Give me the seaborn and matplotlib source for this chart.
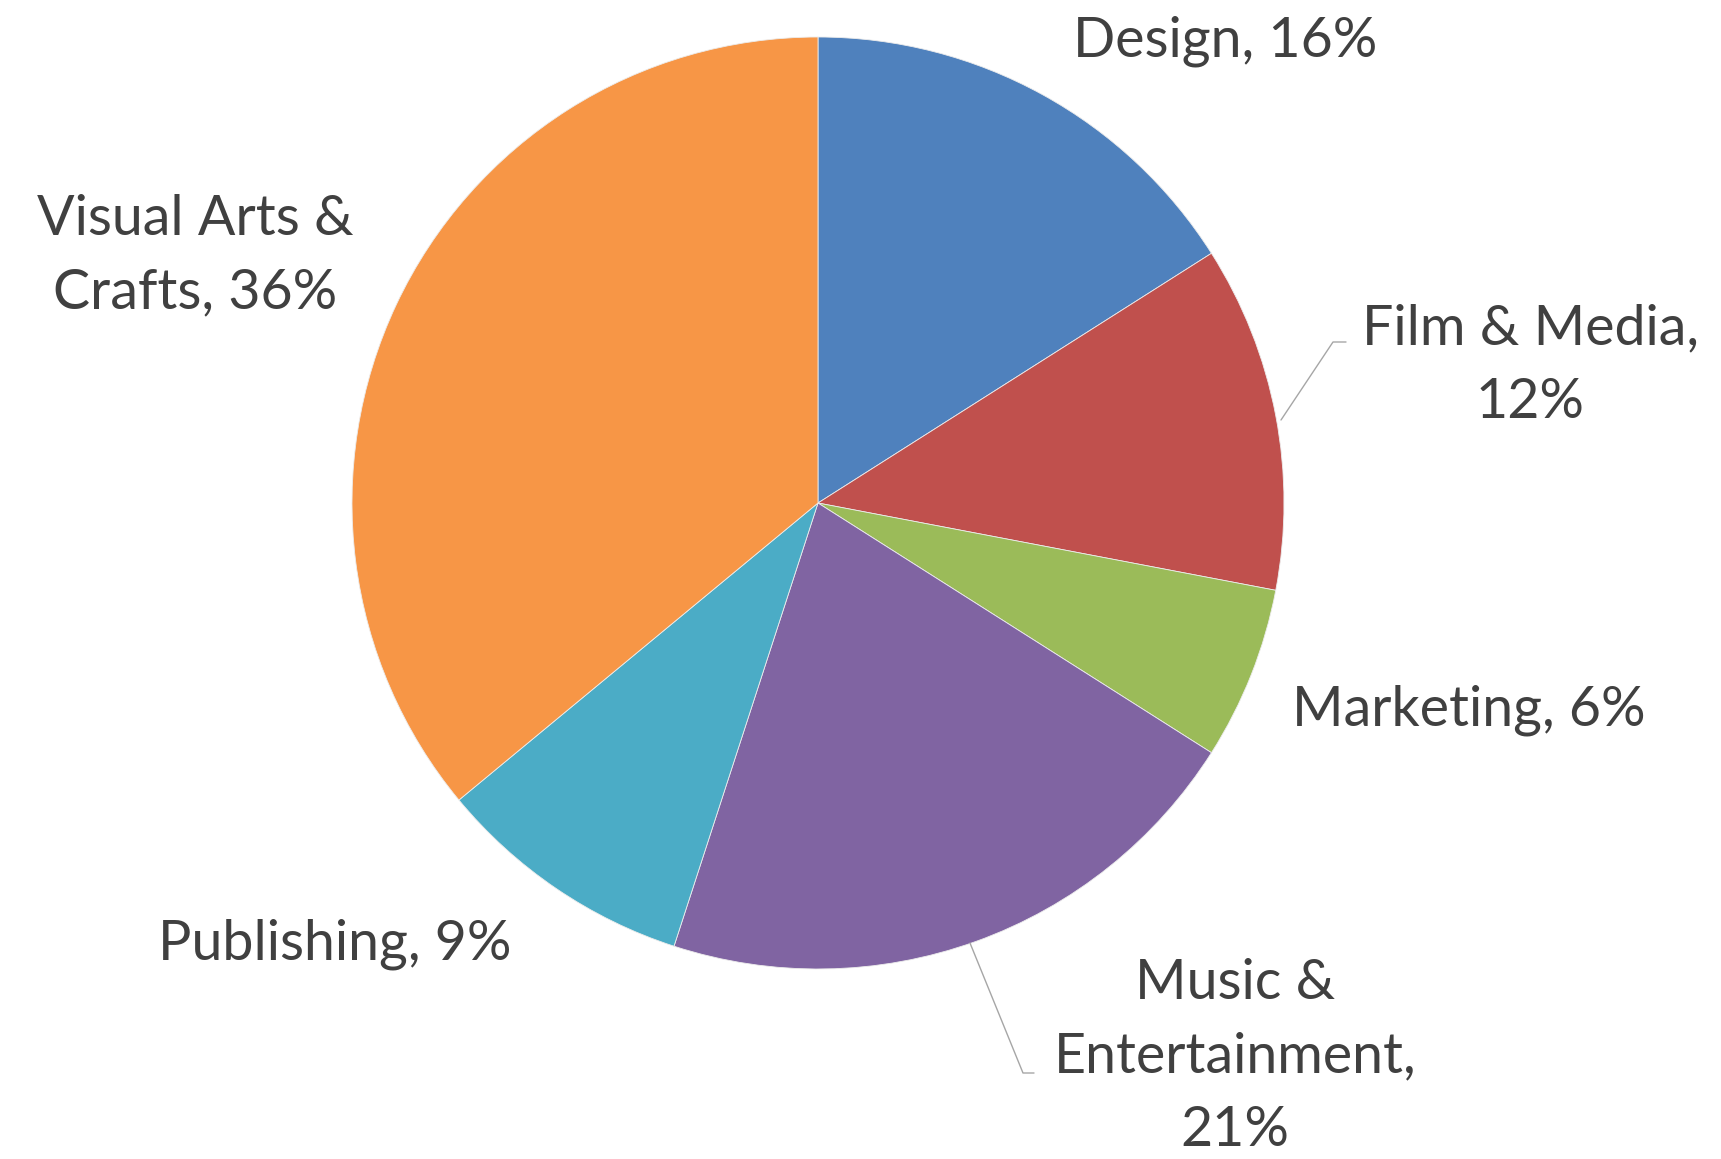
import numpy as np
import pandas as pd
import seaborn as sns
import matplotlib
matplotlib.use("Agg")
import matplotlib.pyplot as plt

categories = ["Design", "Film & Media", "Marketing", "Music & Entertainment",
              "Publishing", "Visual Arts & Crafts"]
shares = [16, 12, 6, 21, 9, 36]
label_texts = ["Design, 16%", "Film & Media,\n12%", "Marketing, 6%",
               "Music &\nEntertainment,\n21%", "Publishing, 9%",
               "Visual Arts &\nCrafts, 36%"]
colors = ["#4F81BD", "#C0504D", "#9BBB59", "#8064A2", "#4BACC6", "#F79646"]

# label centres in pixel coords (y measured from top)
label_pos = [(1225, 41), (1530, 366), (1469, 710), (1235, 1057), (335, 944), (195, 256)]
# leader lines for the labels Excel pulled away
leaders = {1: [(1281, 420), (1333, 342), (1346, 342)],
           3: [(970, 943), (1023, 1073), (1034, 1073)]}

W, H = 1721, 1159
sns.set_theme(style="white")
plt.rcParams["font.family"] = ["Lato", "DejaVu Sans"]

df = pd.DataFrame({"category": categories, "share": shares})

fig = plt.figure(figsize=(W / 100, H / 100), dpi=100)
ax = fig.add_axes([0, 0, 1, 1])
ax.pie(df["share"], colors=colors, startangle=90, counterclock=False,
       center=(818, H - 503), radius=466,
       wedgeprops=dict(edgecolor="#ececec", linewidth=0.6))
ax.set_xlim(0, W)
ax.set_ylim(0, H)
ax.set_aspect("equal")
ax.axis("off")

for i, txt in enumerate(label_texts):
    x, y = label_pos[i]
    ax.text(x, H - y, txt, ha="center", va="center", fontsize=40,
            color="#404040", linespacing=1.55)

for i, pts in leaders.items():
    xs = [p[0] for p in pts]
    ys = [H - p[1] for p in pts]
    ax.plot(xs, ys, color="#a6a6a6", linewidth=1.0)

fig.savefig("out.png", dpi=100, facecolor="white")
